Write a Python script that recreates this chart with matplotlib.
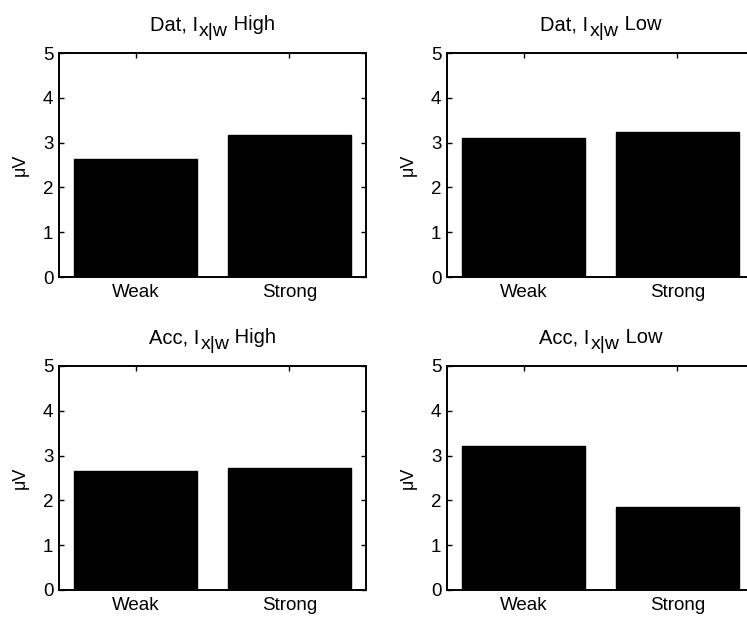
import matplotlib
matplotlib.use("Agg")
import matplotlib.pyplot as plt

plt.rcParams['font.family'] = ['Liberation Sans', 'DejaVu Sans']

categories = ["Weak", "Strong"]
title_main = ["Dat, I", "Dat, I", "Acc, I", "Acc, I"]
title_sub = "x|w"
title_tail = [" High", " Low", " High", " Low"]
dat_high = [2.63, 3.17]
dat_low = [3.11, 3.24]
acc_high = [2.66, 2.73]
acc_low = [3.21, 1.86]
panels = [dat_high, dat_low, acc_high, acc_low]

W, H = 747, 617
fig = plt.figure(figsize=(W / 100, H / 100), dpi=100)

# axes boxes in pixels: left, top, right, bottom
boxes = [(59, 53, 366, 277), (447, 53, 754, 277),
         (59, 366, 366, 590), (447, 366, 754, 590)]

TITLE_OFF = 16.5

heads = []
for (l, t, r, b), vals, main, tail in zip(boxes, panels, title_main, title_tail):
    ax = fig.add_axes([l / W, 1 - b / H, (r - l) / W, (b - t) / H])
    x = range(1, len(categories) + 1)
    ax.bar(x, vals, width=0.8, color='black', edgecolor='black')
    ax.set_xlim(0.5, 2.5)
    ax.set_ylim(0, 5)
    ax.set_xticks(list(x))
    ax.set_xticklabels(categories)
    ax.set_yticks(range(0, 6))
    ax.tick_params(direction='in', top=True, right=True, length=3.5, width=1,
                   labelsize=13.5)
    ax.tick_params(axis='x', pad=5)
    ax.tick_params(axis='y', pad=4)
    for s in ax.spines.values():
        s.set_linewidth(1.4)
    ax.set_ylabel("μV", fontsize=13, labelpad=10)

    # title with a full-size lowered subscript, like the original
    t1 = ax.annotate(main, xy=(0.5, 1), xycoords='axes fraction', xytext=(0, TITLE_OFF),
                     textcoords='offset points', ha='left', va='baseline', fontsize=14.5)
    t2 = ax.annotate(title_sub, xy=(1, 0), xycoords=t1, xytext=(1, -4.5),
                     textcoords='offset points', ha='left', va='bottom', fontsize=14)
    t3 = ax.annotate(tail, xy=(1, 0), xycoords=(t2, t1), xytext=(0, 0),
                     textcoords='offset points', ha='left', va='bottom', fontsize=14.5)
    heads.append((t1, t3))

fig.canvas.draw()
for t1, t3 in heads:
    x0 = t1.get_window_extent().x0
    x1 = t3.get_window_extent().x1
    t1.set_position((-(x1 - x0) / 2 * 72 / fig.dpi, TITLE_OFF))

fig.savefig("out.png", dpi=100)
